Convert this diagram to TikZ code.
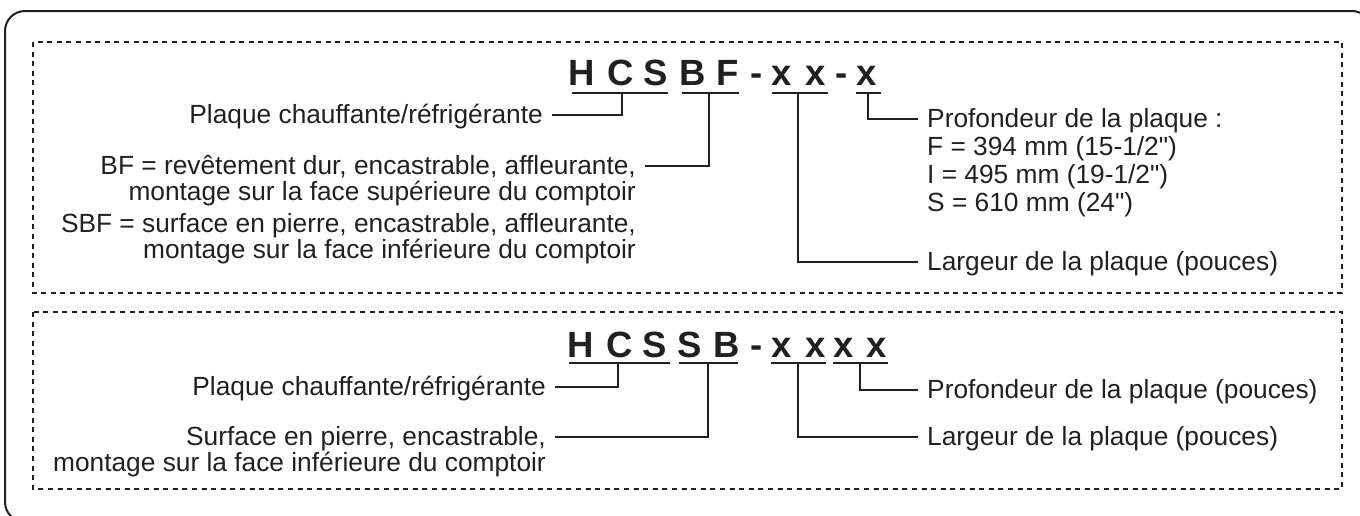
\documentclass[tikz,border=0pt]{standalone}
\usepackage{fontspec}
\setmainfont{Liberation Sans}[Ligatures=TeXOff]
\definecolor{txt}{HTML}{231F20}
\newcommand\lblfont{\fontsize{26.3}{26.3}\selectfont}
\newcommand\cdfont{\fontsize{36.5}{36.5}\selectfont\bfseries}
\tikzset{
  outerbox/.style={line width=2pt, draw=txt, rounded corners=20pt},
  dotbox/.style={line width=2pt, draw=txt, dash pattern=on 5pt off 4.6pt},
  codechar/.style={font=\cdfont, text=txt, inner sep=0pt, anchor=base},
  uline/.style={line width=2.5pt, draw=txt},
  lead/.style={line width=2pt, draw=txt},
  lblL/.style={font=\lblfont, text=txt, inner sep=0pt, anchor=base east},
  lblR/.style={font=\lblfont, text=txt, inner sep=0pt, anchor=base west},
}
\begin{document}
\begin{tikzpicture}[x=1pt,y=-1pt]
\useasboundingbox (0,0) rectangle (1360,515);
\clip (0,0) rectangle (1360,515);
\draw[outerbox] (5,11) rectangle (1372,522);
\draw[dotbox] (33,42) rectangle (1342,293);
\draw[dotbox] (33,312) rectangle (1342,489);

% ---- top code
\foreach \c/\x [count=\i] in {H/582,C/621,S/656,B/692.5,F/728,-/757,x/782,x/816,-/842,x/867}
  \node[codechar] (a\i) at (\x,85) {\c};
\draw[uline] (572,93) -- (668,93);
\draw[uline] (682,93) -- (739,93);
\draw[uline] (772,93) -- (828,93);
\draw[uline] (856,93) -- (881,93);
\coordinate (mA1) at (622,93);
\coordinate (mA2) at (709,93);
\coordinate (mA3) at (798,93);
\coordinate (mA4) at (868,93);

\node[lblL] (lA1) at (543,123) {Plaque chauffante/réfrigérante};
\node[lblL] (lA2) at (636,174) {BF = revêtement dur, encastrable, affleurante,};
\node[lblL] (lA2b) at (636,200) {montage sur la face supérieure du comptoir};
\node[lblL] (lA2c) at (636,232) {SBF = surface en pierre, encastrable, affleurante,};
\node[lblL] (lA2d) at (636,258) {montage sur la face inférieure du comptoir};
\node[lblR] (lA4) at (927,127) {Profondeur de la plaque :};
\node[lblR] (lA4b) at (927,155) {F = 394 mm (15-1/2")};
\node[lblR] (lA4c) at (927,183) {I = 495 mm (19-1/2")};
\node[lblR] (lA4d) at (927,211) {S = 610 mm (24")};
\node[lblR] (lA3) at (927,270) {Largeur de la plaque (pouces)};

\draw[lead] (mA1) |- ([shift={(9pt,8pt)}]lA1.base east);
\draw[lead] (mA2) |- ([shift={(9pt,8pt)}]lA2.base east);
\draw[lead] (mA3) |- ([shift={(-9pt,8pt)}]lA3.base west);
\draw[lead] (mA4) |- ([shift={(-9pt,8pt)}]lA4.base west);

% ---- bottom code
\foreach \c/\x [count=\i] in {H/581,C/620,S/655,S/690,B/727,-/757,x/782,x/816,x/844,x/877}
  \node[codechar] (b\i) at (\x,357) {\c};
\draw[uline] (569,363) -- (670,363);
\draw[uline] (679,363) -- (738,363);
\draw[uline] (771,363) -- (826,363);
\draw[uline] (833,363) -- (888,363);
\coordinate (mB1) at (618,363);
\coordinate (mB2) at (708,363);
\coordinate (mB3) at (798,363);
\coordinate (mB4) at (860,363);

\node[lblL] (lB1) at (546,395) {Plaque chauffante/réfrigérante};
\node[lblL] (lB2) at (546,445) {Surface en pierre, encastrable,};
\node[lblL] (lB2b) at (546,471) {montage sur la face inférieure du comptoir};
\node[lblR] (lB4) at (927,398) {Profondeur de la plaque (pouces)};
\node[lblR] (lB3) at (927,445) {Largeur de la plaque (pouces)};

\draw[lead] (mB1) |- ([shift={(9pt,8pt)}]lB1.base east);
\draw[lead] (mB2) |- ([shift={(9pt,8pt)}]lB2.base east);
\draw[lead] (mB3) |- ([shift={(-9pt,8pt)}]lB3.base west);
\draw[lead] (mB4) |- ([shift={(-9pt,8pt)}]lB4.base west);
\end{tikzpicture}
\end{document}
